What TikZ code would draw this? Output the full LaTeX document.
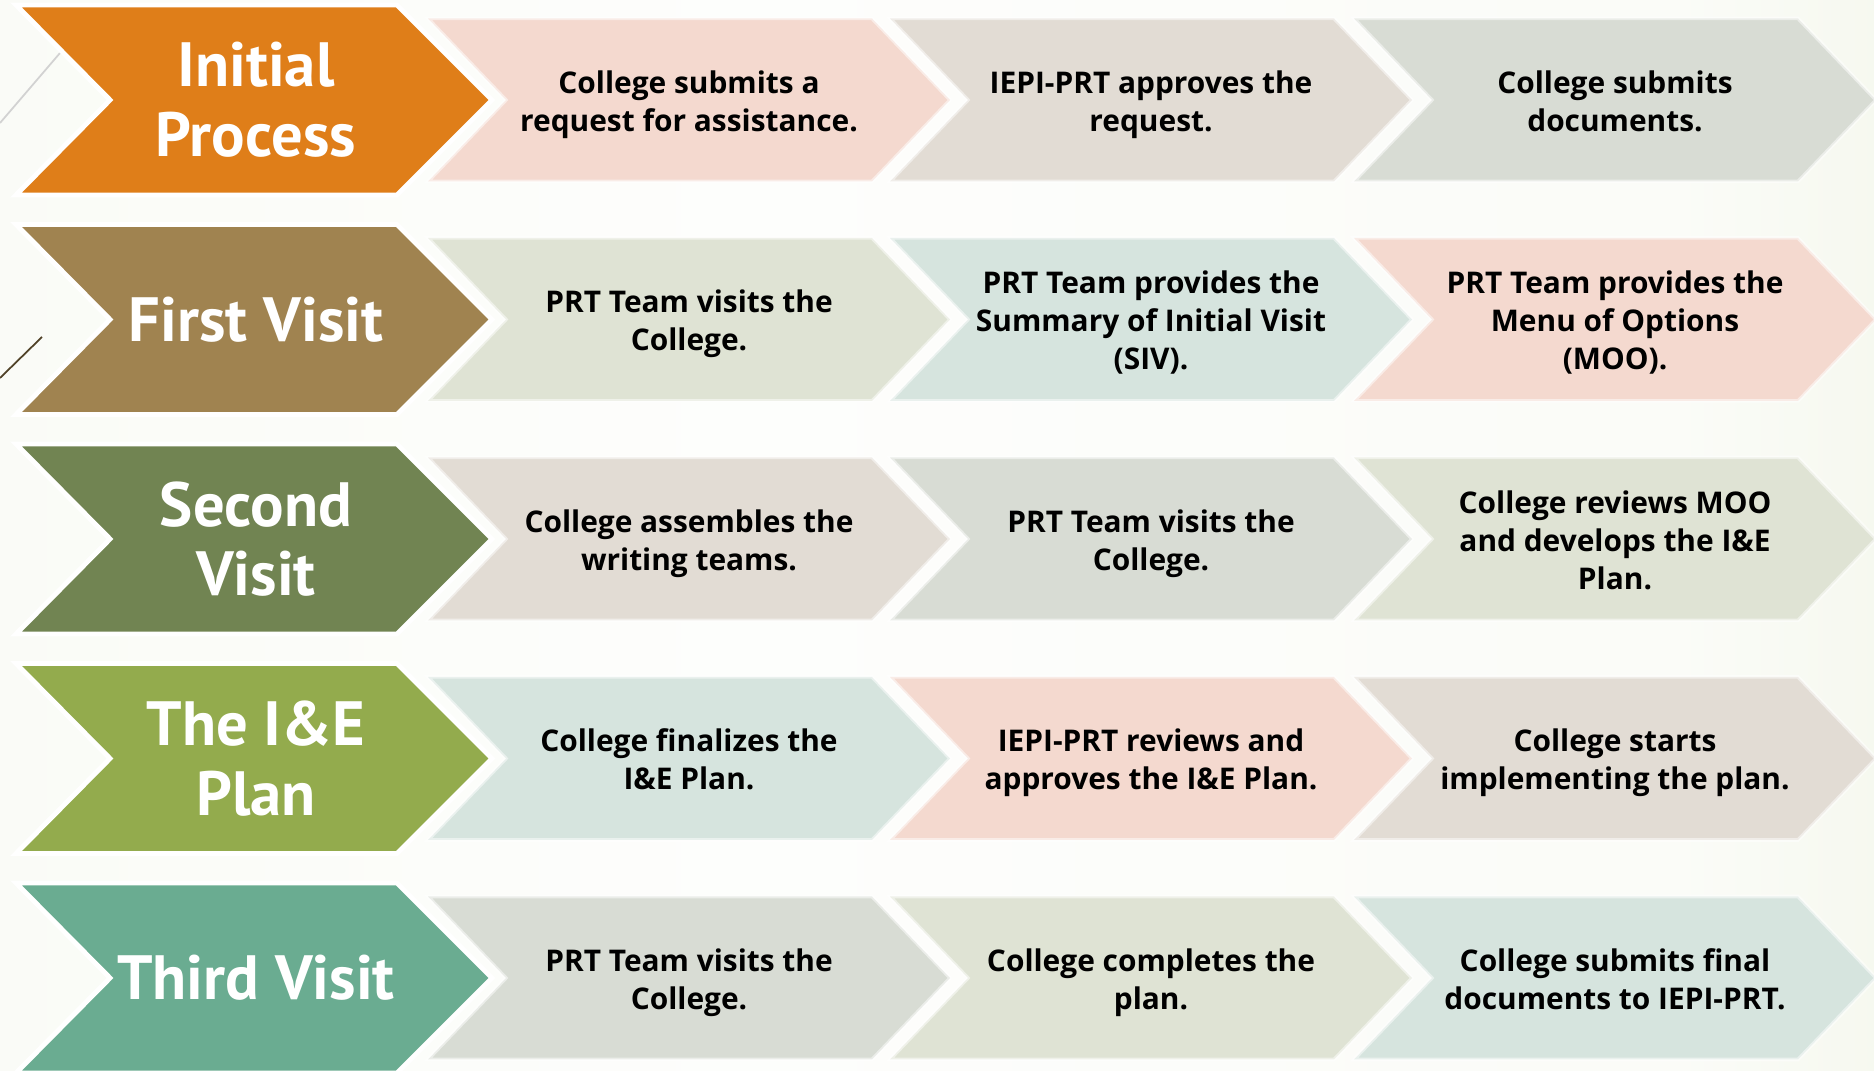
\documentclass[tikz,border=0pt]{standalone}
\usepackage{fontspec}
\usepackage{tikz}
\usepackage{xcolor}
\newfontfamily\labelfont{PT Sans}
\newfontfamily\stepfont{Open Sans}

\definecolor{bgL}{HTML}{E9EFDA}
\definecolor{bgR}{HTML}{E1E8C8}
\definecolor{orangeA}{HTML}{DF7E19}
\definecolor{brownA}{HTML}{A08350}
\definecolor{greenA}{HTML}{718452}
\definecolor{limeA}{HTML}{93AB4D}
\definecolor{tealA}{HTML}{6AAC91}
\definecolor{pinkc}{HTML}{F4D9CF}
\definecolor{beigec}{HTML}{E2DCD4}
\definecolor{grayc}{HTML}{D8DCD4}
\definecolor{olivec}{HTML}{DFE3D4}
\definecolor{mintc}{HTML}{D6E4DE}

\pgfdeclarehorizontalshading{bgshade}{100bp}{color(0bp)=(bgL); color(22bp)=(white!75!bgL); color(45bp)=(white!92!bgL); color(70bp)=(white!80!bgL); color(100bp)=(bgR)}

\tikzset{
  bigchev/.style={draw=white, line width=1.4pt, line join=miter},
  smallchev/.style={draw=white, draw opacity=0.5, line width=1pt},
  bigtext/.style={text=white, align=center, font=\labelfont\bfseries\fontsize{17.8}{19.8}\selectfont},
  steptext/.style={text=black, align=center, font=\stepfont\bfseries\fontsize{8.5}{10.8}\selectfont,
    execute at begin node=\strut, execute at end node=\strut, yshift=-1.9pt}
}

\begin{document}
\begin{tikzpicture}[x=0.1mm,y=-0.1mm]
\useasboundingbox (0,0) rectangle (1874,1071);
\shade[shading=bgshade] (0,0) rectangle (1874,1071);
\draw[gray!35, line width=0.5pt] (0,123) -- (60,53);
\draw[black!50!brownA, line width=0.5pt] (0,378) -- (42,337);

% big chevrons
\draw[bigchev, fill=orangeA, shift={(0,100)}] (16,-95) -- (397,-95) -- (492,0) -- (397,95) -- (16,95) -- (110,0) -- cycle;
\draw[bigchev, fill=brownA, shift={(0,319.5)}] (16,-95) -- (397,-95) -- (492,0) -- (397,95) -- (16,95) -- (110,0) -- cycle;
\draw[bigchev, fill=greenA, shift={(0,539)}] (16,-95) -- (397,-95) -- (492,0) -- (397,95) -- (16,95) -- (110,0) -- cycle;
\draw[bigchev, fill=limeA, shift={(0,758.5)}] (16,-95) -- (397,-95) -- (492,0) -- (397,95) -- (16,95) -- (110,0) -- cycle;
\draw[bigchev, fill=tealA, shift={(0,978)}] (16,-95) -- (397,-95) -- (492,0) -- (397,95) -- (16,95) -- (110,0) -- cycle;

% small chevrons
\draw[smallchev, fill=pinkc, shift={(428,100)}] (0,-81.5) -- (444,-81.5) -- (522,0) -- (444,81.5) -- (0,81.5) -- (78,0) -- cycle;
\draw[smallchev, fill=beigec, shift={(890,100)}] (0,-81.5) -- (444,-81.5) -- (522,0) -- (444,81.5) -- (0,81.5) -- (78,0) -- cycle;
\draw[smallchev, fill=grayc, shift={(1354,100)}] (0,-81.5) -- (444,-81.5) -- (522,0) -- (444,81.5) -- (0,81.5) -- (78,0) -- cycle;
\draw[smallchev, fill=olivec, shift={(428,319.5)}] (0,-81.5) -- (444,-81.5) -- (522,0) -- (444,81.5) -- (0,81.5) -- (78,0) -- cycle;
\draw[smallchev, fill=mintc, shift={(890,319.5)}] (0,-81.5) -- (444,-81.5) -- (522,0) -- (444,81.5) -- (0,81.5) -- (78,0) -- cycle;
\draw[smallchev, fill=pinkc, shift={(1354,319.5)}] (0,-81.5) -- (444,-81.5) -- (522,0) -- (444,81.5) -- (0,81.5) -- (78,0) -- cycle;
\draw[smallchev, fill=beigec, shift={(428,539)}] (0,-81.5) -- (444,-81.5) -- (522,0) -- (444,81.5) -- (0,81.5) -- (78,0) -- cycle;
\draw[smallchev, fill=grayc, shift={(890,539)}] (0,-81.5) -- (444,-81.5) -- (522,0) -- (444,81.5) -- (0,81.5) -- (78,0) -- cycle;
\draw[smallchev, fill=olivec, shift={(1354,539)}] (0,-81.5) -- (444,-81.5) -- (522,0) -- (444,81.5) -- (0,81.5) -- (78,0) -- cycle;
\draw[smallchev, fill=mintc, shift={(428,758.5)}] (0,-81.5) -- (444,-81.5) -- (522,0) -- (444,81.5) -- (0,81.5) -- (78,0) -- cycle;
\draw[smallchev, fill=pinkc, shift={(890,758.5)}] (0,-81.5) -- (444,-81.5) -- (522,0) -- (444,81.5) -- (0,81.5) -- (78,0) -- cycle;
\draw[smallchev, fill=beigec, shift={(1354,758.5)}] (0,-81.5) -- (444,-81.5) -- (522,0) -- (444,81.5) -- (0,81.5) -- (78,0) -- cycle;
\draw[smallchev, fill=grayc, shift={(428,978)}] (0,-81.5) -- (444,-81.5) -- (522,0) -- (444,81.5) -- (0,81.5) -- (78,0) -- cycle;
\draw[smallchev, fill=olivec, shift={(890,978)}] (0,-81.5) -- (444,-81.5) -- (522,0) -- (444,81.5) -- (0,81.5) -- (78,0) -- cycle;
\draw[smallchev, fill=mintc, shift={(1354,978)}] (0,-81.5) -- (444,-81.5) -- (522,0) -- (444,81.5) -- (0,81.5) -- (78,0) -- cycle;

% labels
\node[bigtext] (0) at (256,100) {Initial\\Process};
\node[steptext] (1) at (689,100) {College submits a\\request for assistance.};
\node[steptext] (2) at (1151,100) {IEPI-PRT approves the\\request.};
\node[steptext] (3) at (1615,100) {College submits\\documents.};
\node[bigtext] (4) at (256,319.5) {First Visit};
\node[steptext] (5) at (689,319.5) {PRT Team visits the\\College.};
\node[steptext] (6) at (1151,319.5) {PRT Team provides the\\Summary of Initial Visit\\(SIV).};
\node[steptext] (7) at (1615,319.5) {PRT Team provides the\\Menu of Options\\(MOO).};
\node[bigtext] (8) at (256,539) {Second\\Visit};
\node[steptext] (9) at (689,539) {College assembles the\\writing teams.};
\node[steptext] (10) at (1151,539) {PRT Team visits the\\College.};
\node[steptext] (11) at (1615,539) {College reviews MOO\\and develops the I\&E\\Plan.};
\node[bigtext] (12) at (256,758.5) {The I\&E\\Plan};
\node[steptext] (13) at (689,758.5) {College finalizes the\\I\&E Plan.};
\node[steptext] (14) at (1151,758.5) {IEPI-PRT reviews and\\approves the I\&E Plan.};
\node[steptext] (15) at (1615,758.5) {College starts\\implementing the plan.};
\node[bigtext] (16) at (256,978) {Third Visit};
\node[steptext] (17) at (689,978) {PRT Team visits the\\College.};
\node[steptext] (18) at (1151,978) {College completes the\\plan.};
\node[steptext] (19) at (1615,978) {College submits final\\documents to IEPI-PRT.};
\end{tikzpicture}
\end{document}
